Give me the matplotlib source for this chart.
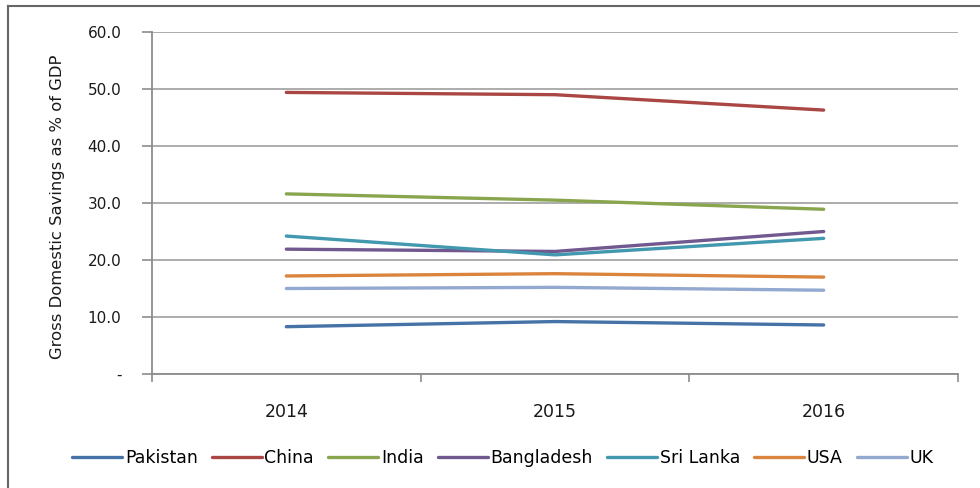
import numpy as np
import matplotlib
matplotlib.use("Agg")
import matplotlib.pyplot as plt
from matplotlib.lines import Line2D

years = ["2014", "2015", "2016"]
countries = ["Pakistan", "China", "India", "Bangladesh", "Sri Lanka", "USA", "UK"]
pakistan = [8.3, 9.2, 8.6]
china = [49.4, 49.0, 46.3]
india = [31.6, 30.5, 28.9]
bangladesh = [21.9, 21.5, 25.0]
sri_lanka = [24.2, 20.9, 23.8]
usa = [17.2, 17.6, 17.0]
uk = [15.0, 15.2, 14.7]
colors = ["#4572A7", "#AA4643", "#89A54E", "#71588F", "#4198AF", "#DB843D", "#93A9CF"]

series = [pakistan, china, india, bangladesh, sri_lanka, usa, uk]

plt.rcParams['font.family'] = ['DejaVu Sans']

fig = plt.figure(figsize=(9.8, 4.88), dpi=100)
ax = fig.add_axes([152 / 980, 1 - 374 / 488, 806 / 980, 342 / 488])

x = np.arange(len(years))
for vals, name, c in zip(series, countries, colors):
    ax.plot(x, vals, color=c, lw=2.4, label=name, solid_capstyle='round')

ax.set_xlim(-0.5, 2.5)
ax.set_ylim(0, 60)
ax.set_yticks(np.arange(0, 61, 10))
ax.set_yticklabels(["-"] + ["%.1f" % v for v in np.arange(10, 61, 10)], fontsize=11, color="#1a1a1a")
ax.grid(axis='y', color="#a6a6a6", lw=1.3)
ax.set_axisbelow(True)

ax.set_xticks([-0.5, 0.5, 1.5, 2.5])
ax.set_xticklabels([])
ax.set_xticks(x, minor=True)
ax.set_xticklabels(years, minor=True, fontsize=12.5, color="#1a1a1a")
ax.tick_params(axis='x', which='minor', length=0, pad=21)
ax.tick_params(axis='x', which='major', length=6, color="#8c8c8c", width=1.2)
ax.tick_params(axis='y', length=7, color="#8c8c8c", width=1.2, pad=15)

for s in ['top', 'right']:
    ax.spines[s].set_visible(False)
for s in ['left', 'bottom']:
    ax.spines[s].set_color("#8c8c8c")
    ax.spines[s].set_linewidth(1.3)

ax.set_ylabel("Gross Domestic Savings as % of GDP", fontsize=11.8, color="#1a1a1a")
ax.yaxis.set_label_coords(-0.108, 0.49)

fig.legend(loc='center', bbox_to_anchor=(0.513, 1 - 458 / 488), ncol=7, frameon=False,
           fontsize=12.5, handlelength=2.9, handletextpad=0.15, columnspacing=0.8)

# outer frame like the pasted excel chart
fig.add_artist(Line2D([8 / 980, 1], [1 - 6 / 488, 1 - 6 / 488], color="#666666", lw=1.5))
fig.add_artist(Line2D([8 / 980, 8 / 980], [0, 1 - 6 / 488], color="#666666", lw=1.5))

fig.savefig("out.png", dpi=100)
